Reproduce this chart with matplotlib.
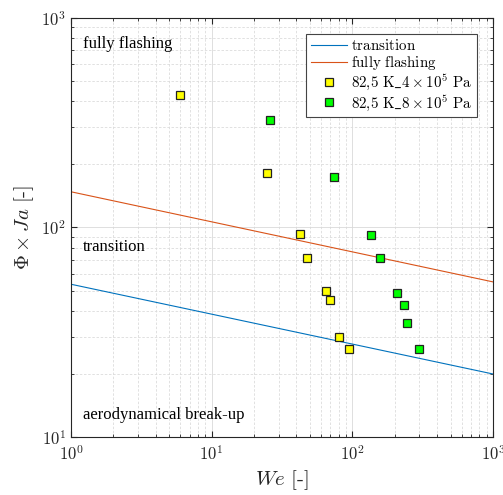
import matplotlib
matplotlib.use("Agg")
import matplotlib.pyplot as plt
import numpy as np

plt.rcParams['mathtext.fontset'] = 'cm'
plt.rcParams['font.family'] = ['cmr10', 'DejaVu Serif']
plt.rcParams['axes.formatter.use_mathtext'] = True

# Line endpoints (We, Phi*Ja)
line_we = [1, 1000]
transition = [53.6, 20.0]
fully_flashing = [148.0, 55.0]

# Data series
we_4bar = [5.95, 24.7, 42.4, 47.6, 64.9, 69.7, 80.7, 94.6]
phija_4bar = [429, 182, 93, 71.5, 49.8, 44.9, 30.1, 26.2]
we_8bar = [26, 74, 136, 158, 208, 234, 246, 296]
phija_8bar = [326, 174, 91.8, 71.3, 48.7, 42.8, 34.9, 26.2]

fig = plt.figure(figsize=(5.03, 4.95), dpi=100)
ax = fig.add_axes([0.141, 0.117, 0.839, 0.847])

ax.plot(line_we, transition, color='#0072BD', lw=0.8, label=r'$\mathrm{transition}$')
ax.plot(line_we, fully_flashing, color='#D95319', lw=0.8, label=r'$\mathrm{fully\ flashing}$')
ax.plot(we_4bar, phija_4bar, 's', ms=5.5, mfc='#ffff00', mec='#222222', mew=0.9, ls='none',
        label=r'$\mathrm{82{,}5\ K\_4}\times 10^5\ \mathrm{Pa}$')
ax.plot(we_8bar, phija_8bar, 's', ms=5.5, mfc='#00ff00', mec='#222222', mew=0.9, ls='none',
        label=r'$\mathrm{82{,}5\ K\_8}\times 10^5\ \mathrm{Pa}$')

ax.set_xscale('log')
ax.set_yscale('log')
ax.set_xlim(1, 1000)
ax.set_ylim(10, 1000)

ax.grid(True, which='major', color='#d9d9d9', lw=0.6, ls='-')
ax.grid(True, which='minor', color='#dcdcdc', lw=0.6, ls=(0, (3, 2)))
ax.set_axisbelow(True)

for s in ax.spines.values():
    s.set_color('#262626')
    s.set_linewidth(0.8)
ax.tick_params(which='both', direction='in', top=True, right=True, colors='#262626',
               labelsize=12)
ax.tick_params(which='major', length=4)
ax.tick_params(which='minor', length=2.5)
ax.tick_params(axis='x', pad=5)

ax.set_xlabel(r'$We\ \mathrm{[\text{-}]}$', fontsize=15, color='#262626')
ax.set_ylabel(r'$\Phi\times Ja\ \mathrm{[\text{-}]}$', fontsize=15, color='#262626')

tfont = dict(family='Liberation Serif', fontsize=12, va='center', ha='left',
             transform=ax.transAxes)
ax.text(0.028, 0.938, 'fully flashing', **tfont)
ax.text(0.028, 0.453, 'transition', **tfont)
ax.text(0.028, 0.0525, 'aerodynamical break-up', **tfont)

leg = ax.legend(loc='upper right', bbox_to_anchor=(0.962, 0.962), borderaxespad=0,
                fontsize=10.8, frameon=True, fancybox=False, edgecolor='#444444',
                framealpha=1, handlelength=2.4, borderpad=0.3, labelspacing=0.05,
                handletextpad=0.3)
leg.get_frame().set_linewidth(0.8)

fig.savefig('out.png', dpi=100)
